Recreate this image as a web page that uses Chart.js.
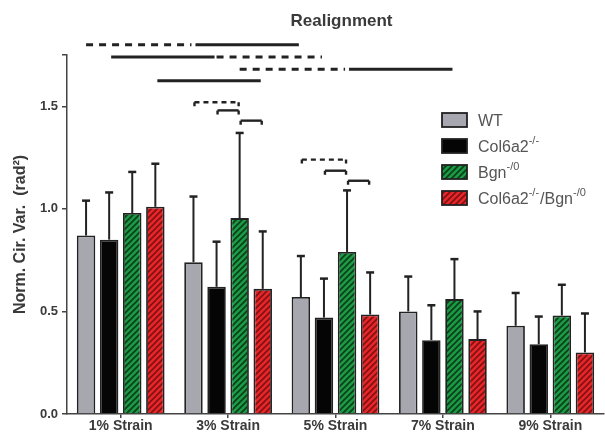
<!DOCTYPE html>
<html>
<head>
<meta charset="utf-8">
<script src="https://cdn.jsdelivr.net/npm/chart.js@4.4.0/dist/chart.umd.min.js"></script>
<style>
html, body { margin: 0; padding: 0; background: #fff; }
</style>
</head>
<body>
<canvas id="chart" width="605" height="437"></canvas>
<script>
"use strict";

const strains = ["1% Strain", "3% Strain", "5% Strain", "7% Strain", "9% Strain"];
const genotypes = ["WT", "Col6a2", "Bgn", "Col6a2/Bgn"];

const wtMeans = [0.87, 0.74, 0.57, 0.50, 0.43];
const wtErr = [0.17, 0.32, 0.20, 0.17, 0.16];
const col6Means = [0.85, 0.62, 0.47, 0.36, 0.34];
const col6Err = [0.23, 0.22, 0.19, 0.17, 0.135];
const bgnMeans = [0.98, 0.955, 0.79, 0.56, 0.48];
const bgnErr = [0.20, 0.415, 0.30, 0.195, 0.15];
const dkoMeans = [1.01, 0.61, 0.485, 0.365, 0.30];
const dkoErr = [0.21, 0.28, 0.205, 0.135, 0.19];

// legend text pieces: [base, superscript, base, superscript]
const legendLabels = [
	["WT"],
	["Col6a2", "-/-"],
	["Bgn", "-/0"],
	["Col6a2", "-/-", "/Bgn", "-/0"],
];

// across strains: [dataset, fromStrain, toStrain, y, dashed]
const acrossLines = [
	[0, 0, 1, 1.80, true],
	[0, 1, 2, 1.80, false],
	[1, 0, 1, 1.74, false],
	[1, 1, 2, 1.74, true],
	[2, 1, 2, 1.68, true],
	[2, 2, 3, 1.68, false],
	[3, 0, 1, 1.625, false],
];

// within a strain: [strain, fromDataset, toDataset, y, dashed]
const withinBrackets = [
	[1, 0, 2, 1.52, true],
	[1, 1, 2, 1.48, false],
	[1, 2, 3, 1.43, false],
	[2, 0, 2, 1.24, true],
	[2, 1, 2, 1.186, false],
	[2, 2, 3, 1.137, false],
];

const FONT = "'Liberation Sans', Arial, sans-serif";
const INK = "#3a3a3a";

function makeHatch(base, stripe) {
	const c = document.createElement("canvas");
	c.width = 6;
	c.height = 6;
	const g = c.getContext("2d");
	g.fillStyle = base;
	g.fillRect(0, 0, 6, 6);
	g.strokeStyle = stripe;
	g.lineWidth = 1.6;
	g.beginPath();
	g.moveTo(-1, 7); g.lineTo(7, -1);
	g.moveTo(-4, 4); g.lineTo(4, -4);
	g.moveTo(2, 10); g.lineTo(10, 2);
	g.stroke();
	return g.createPattern(c, "repeat");
}

const greenHatch = makeHatch("#1c9a44", "#0b3d1b");
const redHatch = makeHatch("#e8262a", "#7e1212");

const fills = ["#a7a7af", "#050505", greenHatch, redHatch];
const errors = [wtErr, col6Err, bgnErr, dkoErr];

const extrasPlugin = {
	id: "extras",
	afterDatasetsDraw(chart) {
		const { ctx, chartArea, scales } = chart;
		const y = scales.y;
		ctx.save();

		// error bars, upper only
		chart.data.datasets.forEach((ds, di) => {
			chart.getDatasetMeta(di).data.forEach((bar, i) => {
				const top = y.getPixelForValue(ds.data[i] + errors[di][i]);
				ctx.strokeStyle = "#222";
				ctx.lineWidth = 2;
				ctx.beginPath();
				ctx.moveTo(bar.x, bar.y);
				ctx.lineTo(bar.x, top);
				ctx.stroke();
				ctx.lineWidth = 2.5;
				ctx.beginPath();
				ctx.moveTo(bar.x - 4, top);
				ctx.lineTo(bar.x + 4, top);
				ctx.stroke();
			});
		});

		// significance lines between strains
		ctx.strokeStyle = "#222";
		acrossLines.forEach(([di, from, to, v, dashed]) => {
			const meta = chart.getDatasetMeta(di);
			const py = y.getPixelForValue(v);
			ctx.lineWidth = 3;
			ctx.setLineDash(dashed ? [7, 6] : []);
			ctx.beginPath();
			ctx.moveTo(meta.data[from].x + (dashed ? 0 : 2), py);
			ctx.lineTo(meta.data[to].x - 2, py);
			ctx.stroke();
		});

		// brackets inside a strain
		withinBrackets.forEach(([si, from, to, v, dashed]) => {
			const x1 = chart.getDatasetMeta(from).data[si].x;
			const x2 = chart.getDatasetMeta(to).data[si].x;
			const py = y.getPixelForValue(v);
			ctx.lineWidth = 2.4;
			ctx.setLineDash(dashed ? [5, 4] : []);
			ctx.beginPath();
			ctx.moveTo(x1 + 1, py);
			ctx.lineTo(x2 - 1, py);
			ctx.stroke();
			ctx.setLineDash([]);
			ctx.beginPath();
			ctx.moveTo(x1 + 1, py + 4);
			ctx.lineTo(x1 + 1, py);
			ctx.moveTo(x2 - 1, py);
			ctx.lineTo(x2 - 1, py + 4);
			ctx.stroke();
		});
		ctx.setLineDash([]);

		// title
		ctx.fillStyle = INK;
		ctx.font = "bold 17px " + FONT;
		ctx.textAlign = "center";
		ctx.textBaseline = "middle";
		ctx.fillText("Realignment", (chartArea.left + chartArea.right) / 2 + 6, 21);

		// legend
		ctx.textAlign = "left";
		ctx.textBaseline = "alphabetic";
		legendLabels.forEach((parts, i) => {
			const cy = 120 + i * 26;
			ctx.fillStyle = fills[i];
			ctx.fillRect(442, cy - 7, 25, 14);
			ctx.strokeStyle = "#222";
			ctx.lineWidth = 1.8;
			ctx.strokeRect(442, cy - 7, 25, 14);
			let x = 478;
			parts.forEach((p, k) => {
				const sup = k % 2 === 1;
				ctx.font = (sup ? "11px " : "16px ") + FONT;
				ctx.fillStyle = "#555";
				ctx.fillText(p, x, sup ? cy - 2 : cy + 6);
				x += ctx.measureText(p).width + (sup ? 1 : 0);
			});
		});

		ctx.restore();
	},
};

const datasets = [wtMeans, col6Means, bgnMeans, dkoMeans].map((values, i) => ({
	label: genotypes[i],
	data: values,
	backgroundColor: fills[i],
	borderColor: "#222",
	borderWidth: 1.8,
	borderSkipped: "bottom",
	categoryPercentage: 0.86,
	barPercentage: 0.8,
}));

new Chart(document.getElementById("chart"), {
	type: "bar",
	data: { labels: strains, datasets },
	options: {
		responsive: false,
		animation: false,
		layout: { padding: { top: 55, right: 1, left: 0, bottom: 0 } },
		plugins: {
			legend: { display: false },
			tooltip: { enabled: false },
		},
		scales: {
			x: {
				grid: { drawOnChartArea: false, offset: false, tickLength: 4, color: "#444", lineWidth: 1.5 },
				border: { color: "#444", width: 1.5 },
				ticks: { color: INK, font: { family: FONT, size: 14, weight: "bold" }, padding: 0, maxRotation: 0 },
				afterFit(s) { s.height = 23; },
			},
			y: {
				min: 0,
				max: 1.75,
				grid: { drawOnChartArea: false, tickLength: 5, color: "#444", lineWidth: 1.5 },
				border: { color: "#444", width: 1.5 },
				ticks: {
					stepSize: 0.5,
					color: INK,
					padding: 4,
					font: { family: FONT, size: 13, weight: "bold" },
					callback: (v) => (v > 1.6 ? "" : v.toFixed(1)),
				},
				title: {
					display: true,
					text: "Norm. Cir. Var.  (rad²)",
					color: INK,
					font: { family: FONT, size: 16, weight: "bold" },
					padding: { top: 11, bottom: 4 },
				},
				afterFit(s) { s.width = 67; },
			},
		},
	},
	plugins: [extrasPlugin],
});
</script>
</body>
</html>
